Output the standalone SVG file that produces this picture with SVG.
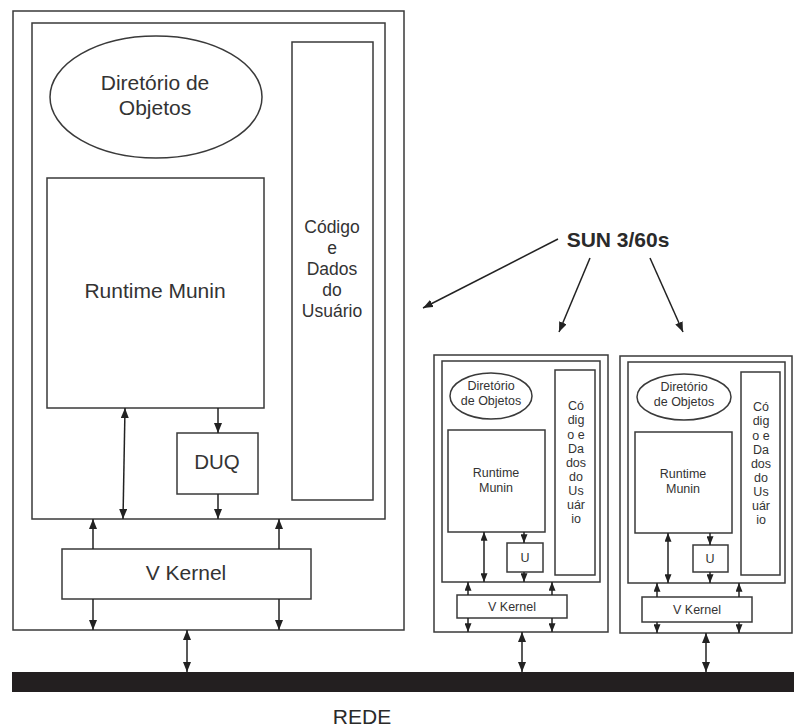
<svg xmlns="http://www.w3.org/2000/svg" width="794" height="728" viewBox="0 0 794 728">
  <defs>
    <marker id="head" viewBox="0 0 10 8" refX="10" refY="4" markerWidth="10" markerHeight="8" markerUnits="userSpaceOnUse" orient="auto-start-reverse">
      <path d="M0,0 L10,4 L0,8 Z" fill="#222"/>
    </marker>
    <marker id="headS" viewBox="0 0 10 8" refX="10" refY="4" markerWidth="9" markerHeight="7" markerUnits="userSpaceOnUse" orient="auto-start-reverse">
      <path d="M0,0 L10,4 L0,8 Z" fill="#222"/>
    </marker>
    <style>
      .box { fill: #fff; stroke: #3a3a3a; stroke-width: 1.5; }
      .frame { fill: none; stroke: #3a3a3a; stroke-width: 1.5; }
      .t { font-family: "Liberation Sans", Arial, sans-serif; fill: #333; text-anchor: middle; }
      .big { font-size: 21px; }
      .mid { font-size: 17.5px; }
      .sm { font-size: 12.5px; }
      .lbl { font-family: "Liberation Sans", Arial, sans-serif; fill: #2a2a2a; }
      .c { stroke: #222; stroke-width: 1.5; fill: none; }
      .one { marker-end: url(#head); }
      .two { marker-start: url(#head); marker-end: url(#head); }
      .oneS { marker-end: url(#headS); }
      .twoS { marker-start: url(#headS); marker-end: url(#headS); }
    </style>
  </defs>
  <rect width="794" height="728" fill="#fff"/>

  <!-- Large workstation -->
  <g id="host-main">
    <rect class="frame" x="13" y="11" width="391" height="619"/>
    <rect class="frame" x="32" y="23" width="353" height="496"/>
  </g>
  <g id="main-dir">
    <ellipse class="box" cx="156" cy="97" rx="106" ry="61"/>
    <text class="t big" x="155" y="90">Diretório de</text>
    <text class="t big" x="155" y="115">Objetos</text>
  </g>
  <g id="main-runtime">
    <rect class="box" x="47" y="178" width="217" height="230"/>
    <text class="t big" x="155" y="298">Runtime Munin</text>
  </g>
  <g id="main-user">
    <rect class="box" x="292" y="42" width="81" height="458"/>
    <text class="t mid" x="332" y="233">Código</text>
    <text class="t mid" x="332" y="254">e</text>
    <text class="t mid" x="332" y="275">Dados</text>
    <text class="t mid" x="332" y="296">do</text>
    <text class="t mid" x="332" y="317">Usuário</text>
  </g>
  <g id="main-duq">
    <rect class="box" x="177" y="433" width="81" height="61"/>
    <text class="t" style="font-size:20.5px" x="217" y="469">DUQ</text>
  </g>
  <g id="main-kernel">
    <rect class="box" x="62" y="549" width="249" height="50"/>
    <text class="t big" x="186" y="580">V Kernel</text>
  </g>

  <!-- Small workstation 1 -->
  <g id="host-a">
    <rect class="frame" x="434" y="355" width="174" height="277"/>
    <rect class="frame" x="442" y="361" width="158" height="221"/>
  </g>
  <g id="a-dir">
    <ellipse class="box" cx="491" cy="396" rx="41" ry="23"/>
    <text class="t sm" x="491" y="390">Diretório</text>
    <text class="t sm" x="491" y="405">de Objetos</text>
  </g>
  <g id="a-runtime">
    <rect class="box" x="448" y="430" width="97" height="102"/>
    <text class="t sm" x="496" y="477">Runtime</text>
    <text class="t sm" x="496" y="492">Munin</text>
  </g>
  <g id="a-user">
    <rect class="box" x="555" y="370" width="40" height="205"/>
    <text class="t sm" x="576" y="410">Có</text>
    <text class="t sm" x="576" y="424">dig</text>
    <text class="t sm" x="576" y="439">o e</text>
    <text class="t sm" x="576" y="453">Da</text>
    <text class="t sm" x="576" y="467">dos</text>
    <text class="t sm" x="576" y="481">do</text>
    <text class="t sm" x="576" y="495">Us</text>
    <text class="t sm" x="576" y="509">uár</text>
    <text class="t sm" x="576" y="523">io</text>
  </g>
  <g id="a-duq">
    <rect class="box" x="507" y="543" width="36" height="29"/>
    <text class="t sm" x="525" y="562">U</text>
  </g>
  <g id="a-kernel">
    <rect class="box" x="457" y="595" width="110" height="23"/>
    <text class="t sm" x="512" y="611">V Kernel</text>
  </g>

  <!-- Small workstation 2 -->
  <g id="host-b">
    <rect class="frame" x="620" y="356" width="172" height="277"/>
    <rect class="frame" x="628" y="362" width="157" height="221"/>
  </g>
  <g id="b-dir">
    <ellipse class="box" cx="684" cy="397" rx="47" ry="23"/>
    <text class="t sm" x="684" y="391">Diretório</text>
    <text class="t sm" x="684" y="406">de Objetos</text>
  </g>
  <g id="b-runtime">
    <rect class="box" x="635" y="432" width="97" height="101"/>
    <text class="t sm" x="683" y="478">Runtime</text>
    <text class="t sm" x="683" y="493">Munin</text>
  </g>
  <g id="b-user">
    <rect class="box" x="741" y="372" width="39" height="203"/>
    <text class="t sm" x="761" y="411">Có</text>
    <text class="t sm" x="761" y="425">dig</text>
    <text class="t sm" x="761" y="440">o e</text>
    <text class="t sm" x="761" y="454">Da</text>
    <text class="t sm" x="761" y="468">dos</text>
    <text class="t sm" x="761" y="482">do</text>
    <text class="t sm" x="761" y="496">Us</text>
    <text class="t sm" x="761" y="510">uár</text>
    <text class="t sm" x="761" y="524">io</text>
  </g>
  <g id="b-duq">
    <rect class="box" x="693" y="545" width="35" height="27"/>
    <text class="t sm" x="710" y="563">U</text>
  </g>
  <g id="b-kernel">
    <rect class="box" x="642" y="597" width="110" height="25"/>
    <text class="t sm" x="697" y="614">V Kernel</text>
  </g>

  <!-- Network bus -->
  <g id="rede">
    <rect x="12" y="672" width="782" height="20" fill="#231f20"/>
    <text class="lbl" x="362" y="724" text-anchor="middle" style="font-size:21px">REDE</text>
  </g>

  <!-- Label -->
  <g id="sun-label">
    <text class="lbl" x="618" y="247" text-anchor="middle" style="font-size:21px;font-weight:bold">SUN 3/60s</text>
  </g>

  <!-- Connectors -->
  <g id="connectors">
    <!-- label pointers -->
    <line class="c one" x1="558" y1="239" x2="423" y2="308"/>
    <line class="c one" x1="590" y1="258" x2="559" y2="332"/>
    <line class="c one" x1="650" y1="258" x2="683" y2="332"/>

    <!-- large workstation -->
    <line class="c two" x1="125" y1="408" x2="123" y2="519"/>
    <line class="c one" x1="218" y1="408" x2="218" y2="433"/>
    <line class="c one" x1="218" y1="494" x2="218" y2="519"/>
    <line class="c one" x1="93" y1="549" x2="93" y2="519"/>
    <line class="c one" x1="279" y1="549" x2="279" y2="519"/>
    <line class="c one" x1="93" y1="599" x2="93" y2="630"/>
    <line class="c one" x1="279" y1="599" x2="279" y2="630"/>
    <line class="c two" x1="187" y1="630" x2="187" y2="672"/>

    <!-- small workstation 1 -->
    <line class="c twoS" x1="484" y1="532" x2="484" y2="582"/>
    <line class="c oneS" x1="524" y1="532" x2="524" y2="543"/>
    <line class="c oneS" x1="524" y1="572" x2="524" y2="582"/>
    <line class="c oneS" x1="468" y1="595" x2="468" y2="582"/>
    <line class="c oneS" x1="552" y1="595" x2="552" y2="582"/>
    <line class="c oneS" x1="468" y1="618" x2="468" y2="632"/>
    <line class="c oneS" x1="552" y1="618" x2="552" y2="632"/>
    <line class="c two" x1="522" y1="632" x2="522" y2="672"/>

    <!-- small workstation 2 -->
    <line class="c twoS" x1="668" y1="533" x2="668" y2="583"/>
    <line class="c oneS" x1="710" y1="533" x2="710" y2="545"/>
    <line class="c oneS" x1="710" y1="572" x2="710" y2="583"/>
    <line class="c oneS" x1="657" y1="597" x2="657" y2="583"/>
    <line class="c oneS" x1="739" y1="597" x2="739" y2="583"/>
    <line class="c oneS" x1="657" y1="622" x2="657" y2="633"/>
    <line class="c oneS" x1="739" y1="622" x2="739" y2="633"/>
    <line class="c two" x1="706" y1="633" x2="706" y2="672"/>
  </g>
</svg>
